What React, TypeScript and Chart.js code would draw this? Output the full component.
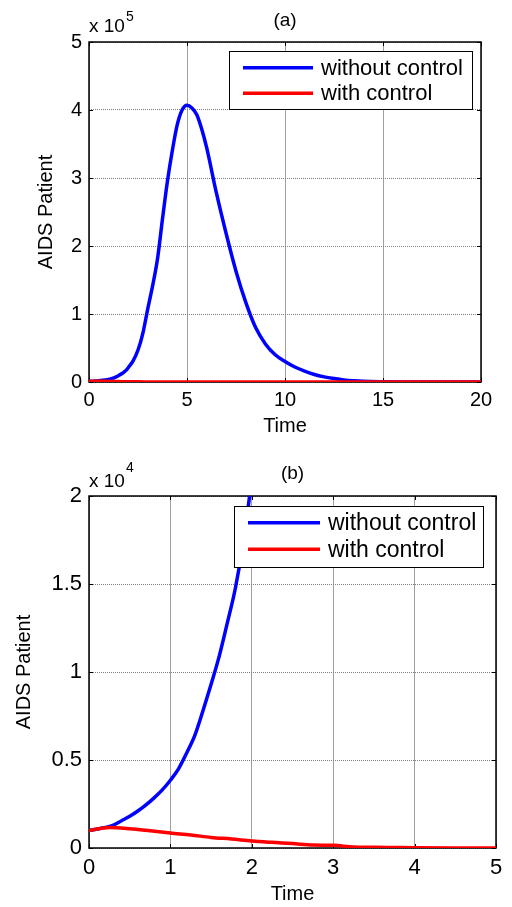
import React, { useEffect, useRef } from 'react';
import { Chart, registerables } from 'chart.js';

Chart.register(...registerables);

const FONT = '"Liberation Sans", Arial, Helvetica, sans-serif';

// ---------------- data ----------------
const seriesLabels = ['without control', 'with control'];
const seriesColors = ['#0000ff', '#ff0000'];
const panelTitles = ['(a)', '(b)'];
const axisTitleX = 'Time';
const axisTitleY = 'AIDS Patient';

const timeWithout = [0, 0.1, 0.2, 0.3, 0.4, 0.5, 0.6, 0.7, 0.8, 0.9, 1.0, 1.1, 1.2, 1.3, 1.4, 1.5, 1.6, 1.7, 1.8, 1.9, 2.0,
  2.25, 2.5, 2.75, 3, 3.25, 3.5, 3.75, 4, 4.25, 4.5, 4.75, 5, 5.25, 5.5, 5.75, 6,
  6.5, 7, 7.5, 8, 8.5, 9, 9.5, 10, 10.5, 11, 11.5, 12, 12.5, 13, 13.5, 14,
  15, 16, 17, 18, 19, 20];
const aidsWithout = [1000, 1080, 1170, 1300, 1550, 1800, 2100, 2450, 2850, 3300, 3850, 4500, 5400, 6400, 7800, 9300, 10900, 12800, 14800, 17500, 21000,
  31000, 47000, 72000, 108000, 142000, 182000, 240000, 295000, 340000, 378000, 400000, 407000, 403000, 393000, 372000, 345000,
  278000, 218000, 163000, 117000, 80000, 56000, 40000, 30000, 22000, 16000, 11000, 7500, 5000, 3000, 1800, 1000,
  400, 150, 50, 0, 0, 0];

const timeWith = [0, 0.25, 0.5, 0.75, 1, 1.25, 1.5, 1.75, 2, 2.25, 2.5, 2.75, 3, 3.25, 3.5, 3.75, 4, 4.5, 5, 10, 15, 20];
const aidsWith = [1000, 1170, 1100, 980, 850, 740, 600, 510, 400, 320, 250, 170, 150, 60, 40, 30, 20, 5, 0, 0, 0, 0];

const xTicksA = [0, 5, 10, 15, 20];
const yTicksA = [0, 100000, 200000, 300000, 400000, 500000];
const yTickLabelsA = ['0', '1', '2', '3', '4', '5'];
const exponentA = '5';

const xTicksB = [0, 1, 2, 3, 4, 5];
const yTicksB = [0, 5000, 10000, 15000, 20000];
const yTickLabelsB = ['0', '0.5', '1', '1.5', '2'];
const exponentB = '4';

// ---------------- layout (geometry only) ----------------
const panelA = {
  top: 0, height: 450, padRight: 31, padTop: 42,
  titleY: 21, titleFont: 19,
  yAxisWidth: 89, xAxisHeight: 68,
  tickFont: 20, xTickPad: 6.5, yTickPad: 7,
  axisTitleFont: 20, yTitlePadTop: 34, xTitlePadBottom: 11.6,
  legend: { x: 229.5, y: 51.5, w: 243, h: 58, line0: 243, line1: 313, rows: [67.7, 93.3], textX: 321, font: 22 },
  expo: { x: 89, base: 32, supBase: 20.5, font: 19, supFont: 14 },
};
const panelB = {
  top: 450, height: 457, padRight: 16, padTop: 46,
  titleY: 23.5, titleFont: 19,
  yAxisWidth: 89, xAxisHeight: 59,
  tickFont: 22, xTickPad: 6.5, yTickPad: 7,
  axisTitleFont: 20, yTitlePadTop: 12.8, xTitlePadBottom: 0.9,
  legend: { x: 234.5, y: 56.5, w: 249, h: 61, line0: 248, line1: 320, rows: [72.7, 99.3], textX: 328, font: 23 },
  expo: { x: 89, base: 36.7, supBase: 21.5, font: 19, supFont: 14 },
};

function makePlugin(geo: any, title: string, exponent: string) {
  return {
    id: 'matlabDecor',
    beforeDatasetsDraw(chart: any) {
      const { ctx, chartArea: a } = chart;
      const xs = chart.scales.x, ys = chart.scales.y;
      ctx.save();
      ctx.strokeStyle = '#000';
      ctx.lineWidth = 1;
      ctx.beginPath();
      xs.ticks.forEach((t: any) => {
        const p = Math.round(xs.getPixelForValue(t.value)) + 0.5;
        ctx.moveTo(p, a.bottom); ctx.lineTo(p, a.bottom - 4);
        ctx.moveTo(p, a.top); ctx.lineTo(p, a.top + 4);
      });
      ys.ticks.forEach((t: any) => {
        const p = Math.round(ys.getPixelForValue(t.value)) + 0.5;
        ctx.moveTo(a.left, p); ctx.lineTo(a.left + 4, p);
        ctx.moveTo(a.right, p); ctx.lineTo(a.right - 4, p);
      });
      ctx.stroke();
      ctx.lineWidth = 1.5;
      ctx.strokeRect(a.left, a.top, a.right - a.left, a.bottom - a.top);
      ctx.restore();
    },
    afterDraw(chart: any) {
      const { ctx, chartArea: a } = chart;
      const L = geo.legend;
      ctx.save();
      // panel title centred over the axes
      ctx.fillStyle = '#000';
      ctx.font = `${geo.titleFont}px ${FONT}`;
      ctx.textAlign = 'center';
      ctx.textBaseline = 'middle';
      ctx.fillText(title, (a.left + a.right) / 2, geo.titleY);
      // legend
      ctx.fillStyle = '#fff';
      ctx.fillRect(L.x, L.y, L.w, L.h);
      ctx.strokeStyle = '#000';
      ctx.lineWidth = 1;
      ctx.strokeRect(L.x, L.y, L.w, L.h);
      chart.data.datasets.forEach((ds: any, i: number) => {
        const y = L.rows[i];
        ctx.strokeStyle = ds.borderColor;
        ctx.lineWidth = 3.5;
        ctx.beginPath();
        ctx.moveTo(L.line0, y);
        ctx.lineTo(L.line1, y);
        ctx.stroke();
        ctx.fillStyle = '#000';
        ctx.font = `${L.font}px ${FONT}`;
        ctx.textAlign = 'left';
        ctx.textBaseline = 'middle';
        ctx.fillText(ds.label, L.textX, y + 1);
      });
      // exponent label
      const E = geo.expo;
      ctx.fillStyle = '#000';
      ctx.textBaseline = 'alphabetic';
      ctx.textAlign = 'left';
      ctx.font = `${E.font}px ${FONT}`;
      const base = 'x 10';
      ctx.fillText(base, E.x, E.base);
      const w = ctx.measureText(base).width;
      ctx.font = `${E.supFont}px ${FONT}`;
      ctx.fillText(exponent, E.x + w + 1, E.supBase);
      ctx.restore();
    },
  };
}

function makeConfig(geo: any, title: string, xTicks: number[], yTicks: number[], yLabels: string[], exponent: string) {
  const xMax = xTicks[xTicks.length - 1];
  const yMax = yTicks[yTicks.length - 1];
  return {
    type: 'line',
    data: {
      datasets: [
        {
          label: seriesLabels[0],
          data: timeWithout.map((t, i) => ({ x: t, y: aidsWithout[i] })),
          borderColor: seriesColors[0],
          borderWidth: 3.5,
          pointRadius: 0,
          cubicInterpolationMode: 'monotone',
          order: 1,
        },
        {
          label: seriesLabels[1],
          data: timeWith.map((t, i) => ({ x: t, y: aidsWith[i] })),
          borderColor: seriesColors[1],
          borderWidth: 3.5,
          pointRadius: 0,
          cubicInterpolationMode: 'monotone',
          order: 0,
        },
      ],
    },
    options: {
      animation: false,
      responsive: false,
      events: [],
      layout: { padding: { left: 0, right: geo.padRight, top: geo.padTop, bottom: 0 } },
      plugins: {
        legend: { display: false },
        tooltip: { enabled: false },
        title: { display: false },
      },
      scales: {
        x: {
          type: 'linear',
          min: 0,
          max: xMax,
          afterBuildTicks: (s: any) => { s.ticks = xTicks.map((v) => ({ value: v })); },
          afterFit: (s: any) => { s.height = geo.xAxisHeight; },
          ticks: {
            color: '#000',
            font: { size: geo.tickFont, family: FONT },
            padding: geo.xTickPad,
            maxRotation: 0,
            autoSkip: false,
            callback: (v: any) => String(v),
          },
          grid: { color: '#a0a0a0', lineWidth: 1, drawTicks: false },
          border: { display: false },
          title: {
            display: true,
            text: axisTitleX,
            color: '#000',
            font: { size: geo.axisTitleFont, family: FONT },
            padding: { top: 0, bottom: geo.xTitlePadBottom },
          },
        },
        y: {
          type: 'linear',
          min: 0,
          max: yMax,
          afterBuildTicks: (s: any) => { s.ticks = yTicks.map((v) => ({ value: v })); },
          afterFit: (s: any) => { s.width = geo.yAxisWidth; },
          ticks: {
            color: '#000',
            font: { size: geo.tickFont, family: FONT },
            padding: geo.yTickPad,
            autoSkip: false,
            callback: (_v: any, i: number) => yLabels[i],
          },
          grid: { color: '#808080', lineWidth: 1, drawTicks: false },
          border: { display: false, dash: [1, 1] },
          title: {
            display: true,
            text: axisTitleY,
            color: '#000',
            font: { size: geo.axisTitleFont, family: FONT },
            padding: { top: geo.yTitlePadTop, bottom: 0 },
          },
        },
      },
    },
    plugins: [makePlugin(geo, title, exponent)],
  };
}

export default function App() {
  const refA = useRef<HTMLCanvasElement | null>(null);
  const refB = useRef<HTMLCanvasElement | null>(null);

  useEffect(() => {
    Chart.defaults.font.family = FONT;
    const a = new Chart(refA.current as any, makeConfig(panelA, panelTitles[0], xTicksA, yTicksA, yTickLabelsA, exponentA) as any);
    const b = new Chart(refB.current as any, makeConfig(panelB, panelTitles[1], xTicksB, yTicksB, yTickLabelsB, exponentB) as any);
    return () => { a.destroy(); b.destroy(); };
  }, []);

  return (
    <div style={{ position: 'absolute', left: 0, top: 0, width: 512, height: 907, background: '#fff' }}>
      <canvas ref={refA} width={512} height={panelA.height}
        style={{ position: 'absolute', left: 0, top: panelA.top, display: 'block' }} />
      <canvas ref={refB} width={512} height={panelB.height}
        style={{ position: 'absolute', left: 0, top: panelB.top, display: 'block' }} />
    </div>
  );
}
